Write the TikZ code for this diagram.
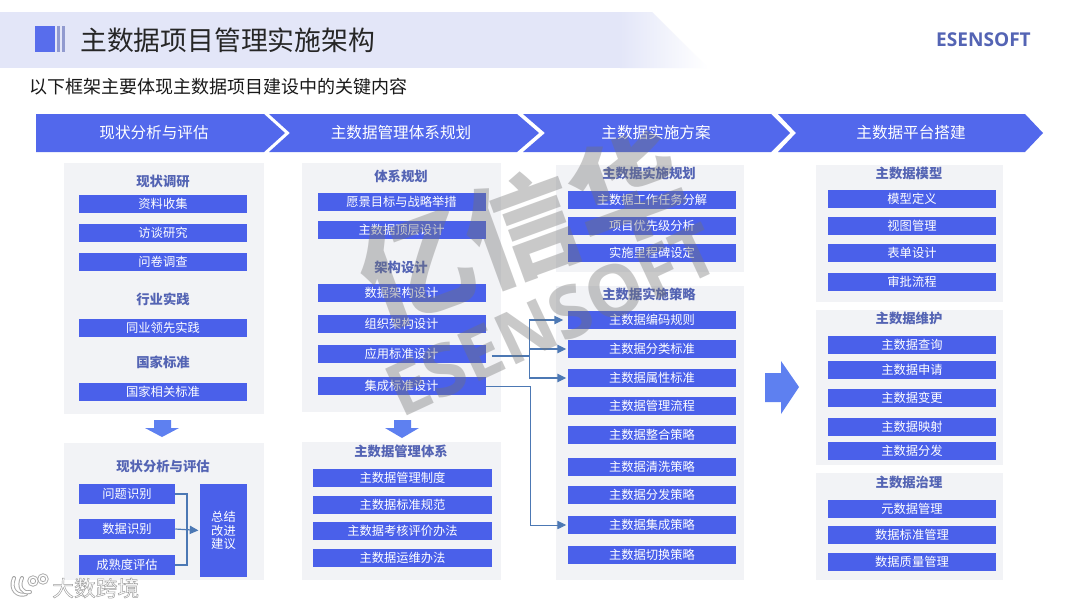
\documentclass[tikz,border=0pt]{standalone}
\usepackage{fontspec}
\setmainfont{Noto Sans CJK SC}
\newfontfamily\latinfont{Open Sans}
\newfontfamily\wmfont[FakeBold=2.2]{Noto Sans CJK SC}
\usetikzlibrary{arrows.meta,calc}
\definecolor{barblue}{HTML}{4A60EA}
\definecolor{headblue}{HTML}{5268EC}
\definecolor{panelgrey}{HTML}{F2F3F6}
\definecolor{titleblue}{HTML}{5464B4}
\definecolor{connblue}{HTML}{4C78B4}
\definecolor{arrowblue}{HTML}{5E80F0}
\definecolor{bandblue}{HTML}{E3E6F8}
\tikzset{
  x=0.75pt,y=-0.75pt,
  panel/.style={fill=panelgrey,draw=none},
  bar/.style={fill=barblue,text=white,font=\fontsize{9.2pt}{11pt}\selectfont,minimum height=13.5pt,inner sep=0pt,draw=none,text height=8pt,text depth=1pt,align=center},
  barA/.style={bar,minimum width=126pt},
  barB/.style={bar,minimum width=134pt},
  barC/.style={bar,minimum width=72pt,minimum height=15pt},
  heading/.style={text=titleblue,font=\fontsize{10pt}{12pt}\selectfont\bfseries,inner sep=0pt,yshift=-0.4pt},
  chevtext/.style={text=white,font=\fontsize{11.7pt}{14pt}\selectfont,inner sep=0pt},
  chev/.style={fill=headblue,draw=none},
  conn/.style={draw=connblue,line width=0.9pt},
  connarrow/.style={conn,-{Triangle[length=6.5pt,width=6.2pt,fill=connblue]}},
  bigarrow/.style={fill=arrowblue,draw=none},
  wmark/.style={text=black!55,opacity=0.38,inner sep=0pt},
}
\begin{document}
\begin{tikzpicture}
\useasboundingbox (0,0) rectangle (1080,607);
\fill[white] (0,0) rectangle (1080,607);
% header band
\fill[bandblue] (0,12) -- (620,12) -- (620,68) -- (0,68) -- cycle;
\shade[left color=bandblue,right color=white] (620,12) -- (652,12) -- (708,68) -- (620,68) -- cycle;
\fill[barblue!92!white] (35,26) rectangle (55,52);
\fill[barblue!55!gray!70!white] (57,26) rectangle (60,52);
\fill[barblue!55!gray!70!white] (62,26) rectangle (65,52);
\node[anchor=west,inner sep=0pt,text=black!85,font=\fontsize{20.1pt}{24pt}\selectfont] (title) at (80,40) {主数据项目管理实施架构};
\node[anchor=east,inner sep=0pt,text=titleblue,font=\latinfont\bfseries\fontsize{14.3pt}{16pt}\selectfont] (logo) at (1031,40) {ESENSOFT};
\node[anchor=west,inner sep=0pt,text=black!90,font=\fontsize{13.5pt}{16pt}\selectfont] (subtitle) at (29,87) {以下框架主要体现主数据项目建设中的关键内容};
% chevrons
\fill[chev] (36,114) -- (264,114) -- (285,133) -- (264,152) -- (36,152) -- cycle;
\fill[chev] (269,114) -- (517,114) -- (539,133) -- (517,152) -- (269,152) -- (290,133) -- cycle;
\fill[chev] (523,114) -- (771,114) -- (790,133) -- (771,152) -- (523,152) -- (545,133) -- cycle;
\fill[chev] (778,114) -- (1025,114) -- (1043,133) -- (1025,152) -- (778,152) -- (796,133) -- cycle;
\node[chevtext] (c1) at (154,133) {现状分析与评估};
\node[chevtext] (c2) at (401,133) {主数据管理体系规划};
\node[chevtext] (c3) at (656,133) {主数据实施方案};
\node[chevtext] (c4) at (911,133) {主数据平台搭建};
% panels
\fill[panel] (64,163) rectangle (264,414);
\fill[panel] (64,443) rectangle (264,580);
\fill[panel] (302,163) rectangle (501,412);
\fill[panel] (302,442) rectangle (501,580);
\fill[panel] (556,165) rectangle (744,272);
\fill[panel] (556,286) rectangle (744,580);
\fill[panel] (816,165) rectangle (1003,302);
\fill[panel] (816,310) rectangle (1003,465);
\fill[panel] (816,473) rectangle (1003,580);
% column 1
\node[heading] (h11) at (163,181) {现状调研};
\node[barA] (a1) at (163,204) {资料收集};
\node[barA] (a2) at (163,233) {访谈研究};
\node[barA] (a3) at (163,262) {问卷调查};
\node[heading] (h12) at (163,299) {行业实践};
\node[barA] (a4) at (163,328) {同业领先实践};
\node[heading] (h13) at (163,362) {国家标准};
\node[barA] (a5) at (163,392) {国家相关标准};
\node[heading] (h14) at (163,466) {现状分析与评估};
\node[barC] (p1) at (127,494) {问题识别};
\node[barC] (p2) at (127,529) {数据识别};
\node[barC] (p3) at (127,565) {成熟度评估};
\node[fill=barblue,text=white,font=\fontsize{9.2pt}{10pt}\selectfont,minimum width=35.25pt,minimum height=69.75pt,inner sep=0pt,align=center] (sum) at (223.5,530.5) {总结\\改进\\建议};
\coordinate (jn) at (187,529);
\draw[conn] (p1.east) -| (jn);
\draw[conn] (p3.east) -| (jn);
\draw[connarrow,shorten >=1pt] (p2.east) -- (sum.west);
% column 2
\node[heading] (h21) at (401,176) {体系规划};
\node[barA] (b1) at (401.5,202) {愿景目标与战略举措};
\node[barA] (b2) at (401.5,230) {主数据顶层设计};
\node[heading] (h22) at (401,267) {架构设计};
\node[barA] (b3) at (401.5,293) {数据架构设计};
\node[barA] (b4) at (401.5,324) {组织架构设计};
\node[barA] (b5) at (401.5,354) {应用标准设计};
\node[barA] (b6) at (401.5,386) {集成标准设计};
\node[heading] (h23) at (401,451) {主数据管理体系};
\node[barB] (m1) at (402.5,478) {主数据管理制度};
\node[barB] (m2) at (402.5,505) {主数据标准规范};
\node[barB] (m3) at (402.5,531) {主数据考核评价办法};
\node[barB] (m4) at (402.5,558) {主数据运维办法};
% column 3
\node[heading] (h31) at (649,173) {主数据实施规划};
\node[barA] (d1) at (652,200) {主数据工作任务分解};
\node[barA] (d2) at (652,226) {项目优先级分析};
\node[barA] (d3) at (652,253) {实施里程碑设定};
\node[heading] (h32) at (649,294) {主数据实施策略};
\node[barA] (e1) at (652,320) {主数据编码规则};
\node[barA] (e2) at (652,349) {主数据分类标准};
\node[barA] (e3) at (652,378) {主数据属性标准};
\node[barA] (e4) at (652,406) {主数据管理流程};
\node[barA] (e5) at (652,435) {主数据整合策略};
\node[barA] (e6) at (652,467) {主数据清洗策略};
\node[barA] (e7) at (652,495) {主数据分发策略};
\node[barA] (e8) at (652,525) {主数据集成策略};
\node[barA] (e9) at (652,555) {主数据切换策略};
% column 4
\node[heading] (h41) at (909,173) {主数据模型};
\node[barA] (f1) at (912,199) {模型定义};
\node[barA] (f2) at (912,226) {视图管理};
\node[barA] (f3) at (912,253) {表单设计};
\node[barA] (f4) at (912,282) {审批流程};
\node[heading] (h42) at (909,318) {主数据维护};
\node[barA] (g1) at (912,345) {主数据查询};
\node[barA] (g2) at (912,370) {主数据申请};
\node[barA] (g3) at (912,398) {主数据变更};
\node[barA] (g4) at (912,427) {主数据映射};
\node[barA] (g5) at (912,451) {主数据分发};
\node[heading] (h43) at (909,482) {主数据治理};
\node[barA] (k1) at (912,509) {元数据管理};
\node[barA] (k2) at (912,535) {数据标准管理};
\node[barA] (k3) at (912,562) {数据质量管理};
% connectors
\coordinate (ja) at (529.5,356);
\coordinate (jb) at (530.5,386);
\draw[conn,shorten <=4.5pt] (b5.east |- ja) -- (ja);
\draw[connarrow,shorten >=3.5pt] (ja) |- (e1.west);
\draw[connarrow,shorten >=1.2pt] (ja) |- (e2.west);
\draw[connarrow,shorten >=1.2pt] (ja) |- (e3.west);
\draw[conn,line width=0.6pt] (b6.east) -- (jb);
\draw[connarrow,line width=0.6pt,shorten >=1.2pt] (jb) |- (e8.west);
% block arrows
\fill[bigarrow] (154,420) -- (171,420) -- (171,428) -- (179,428) -- (162,437) -- (145,428) -- (154,428) -- cycle;
\fill[bigarrow] (394,420) -- (411,420) -- (411,428) -- (419,428) -- (402,438) -- (385,428) -- (394,428) -- cycle;
\fill[bigarrow] (765,373) -- (781,373) -- (781,361) -- (799,387) -- (781,414) -- (781,402) -- (765,402) -- cycle;
% watermarks
\node[wmark,rotate=20,font=\fontsize{84pt}{88pt}\selectfont\bfseries] (wm1) at (522,228) {亿信华};
\node[wmark,rotate=25,font=\latinfont\bfseries\fontsize{54pt}{56pt}\selectfont] (wm2) at (552,320) {ESENSOFT};
\draw[black!35,line width=3pt,line cap=round] (14,578) .. controls (9,590) and (18,597) .. (26,594);
\draw[white,line width=1.6pt,line cap=round] (14,578) .. controls (9,590) and (18,597) .. (26,594);
\draw[black!35,line width=3pt,line cap=round] (22,578) .. controls (18,586) and (22,594) .. (30,592);
\draw[white,line width=1.6pt,line cap=round] (22,578) .. controls (18,586) and (22,594) .. (30,592);
\draw[black!35,line width=2.4pt] (33,581) circle (4);
\draw[white,line width=1.1pt] (33,581) circle (4);
\draw[black!35,line width=2.4pt] (43,579) circle (4);
\draw[white,line width=1.1pt] (43,579) circle (4);
\node[anchor=west,inner sep=0pt,font=\fontsize{16.3pt}{18pt}\selectfont] (wm3) at (52,588) {\special{pdf:bcolor [1] [0.62]}\wmfont 大数跨境\special{pdf:ecolor}};
\end{tikzpicture}
\end{document}
